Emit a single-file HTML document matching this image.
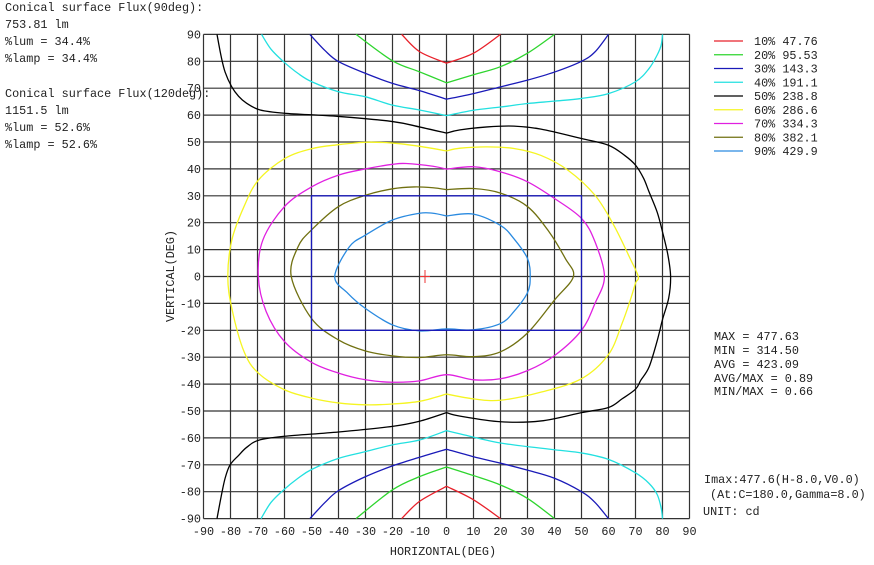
<!DOCTYPE html>
<html><head><meta charset="utf-8"><style>
body{margin:0;background:#fff;width:874px;height:565px;overflow:hidden}
svg{display:block}
text{font-family:"Liberation Mono",monospace;font-size:11.8px;fill:#222}
</style></head><body>
<svg width="874" height="565" viewBox="0 0 874 565">
<g id="grid" stroke="#333" stroke-width="1.2" fill="none"></g>
<g id="curves" transform="translate(446.5,276.5) scale(2.7,-2.69)" fill="none" stroke-width="1.3"></g>
<g stroke="#e33" stroke-width="1"><line x1="425" y1="270" x2="425" y2="283"/><line x1="420" y1="276.5" x2="430" y2="276.5"/></g>
<g id="labels"></g>
<text x="5" y="11">Conical surface Flux(90deg):</text>
<text x="5" y="28">753.81 lm</text>
<text x="5" y="45">%lum = 34.4%</text>
<text x="5" y="62">%lamp = 34.4%</text>
<text x="5" y="97">Conical surface Flux(120deg):</text>
<text x="5" y="114">1151.5 lm</text>
<text x="5" y="131">%lum = 52.6%</text>
<text x="5" y="148">%lamp = 52.6%</text>
<g id="legend"></g>
<text x="714" y="340">MAX = 477.63</text>
<text x="714" y="354">MIN = 314.50</text>
<text x="714" y="368">AVG = 423.09</text>
<text x="714" y="382">AVG/MAX = 0.89</text>
<text x="714" y="395">MIN/MAX = 0.66</text>
<text x="704" y="483">Imax:477.6(H-8.0,V0.0)</text>
<text x="710" y="498">(At:C=180.0,Gamma=8.0)</text>
<text x="703" y="515">UNIT: cd</text>
<text x="443" y="555" text-anchor="middle">HORIZONTAL(DEG)</text>
<text transform="translate(174,276) rotate(-90)" text-anchor="middle">VERTICAL(DEG)</text>
</svg>
<script>
var NS="http://www.w3.org/2000/svg";
function el(p,t,a,txt){var e=document.createElementNS(NS,t);for(var k in a)e.setAttribute(k,a[k]);if(txt!==undefined)e.textContent=txt;p.appendChild(e);return e;}
var X=function(h){return 446.5+2.7*h},Y=function(v){return 276.5-2.69*v};
var g=document.getElementById('grid'),L=document.getElementById('labels');
for(var h=-90;h<=90;h+=10){el(g,'line',{x1:X(h),y1:Y(90),x2:X(h),y2:Y(-90)});el(L,'text',{x:X(h),y:535,'text-anchor':'middle'},String(h));}
for(var v=-90;v<=90;v+=10){el(g,'line',{x1:X(-90),y1:Y(v),x2:X(90),y2:Y(v)});el(L,'text',{x:201,y:Y(v)+4,'text-anchor':'end'},String(v));}
var C={red:'#e8202a',green:'#2ed52e',blue:'#1a1ab8',cyan:'#22e0e0',black:'#000',yellow:'#f5f522',mag:'#e020e0',olive:'#707010',db:'#2a8ae0'};
var S=[
['red',1,[[-16.6,90],[-10,83.6],[0,79.3],[10,83],[20,90]]],
['red',1,[[-16.6,-90],[-10,-83.6],[0,-78],[10,-83],[20,-90]]],
['green',1,[[-33.5,90],[-20,80.2],[-10,76.1],[0,72],[10,75],[20,78],[30,83],[40,90]]],
['green',1,[[-33.5,-90],[-20,-79.3],[-10,-74.4],[0,-70.8],[10,-74],[20,-77.5],[30,-82.5],[40,-90]]],
['blue',1,[[-50.6,90],[-45,84],[-40,79.9],[-30,75.5],[-20,71.8],[-10,69.1],[0,65.9],[10,68],[20,70.5],[30,73],[40,76],[50,80],[55,83.5],[60,90]]],
['blue',1,[[-50.6,-90],[-45,-84],[-40,-79.6],[-30,-74.4],[-20,-70.4],[-10,-67.2],[0,-64.2],[10,-67],[20,-69.4],[30,-72],[40,-75],[50,-80],[55,-84],[60,-90]]],
['cyan',1,[[-68.5,90],[-65,84.5],[-60.4,79.9],[-55,75.5],[-49.9,72.4],[-40,68.7],[-30,66.8],[-20,63.7],[-10,61.9],[0,59.8],[10,61.8],[20,63],[30,64.3],[40,65.2],[50,66.2],[60,68],[70,72.4],[75,77.3],[78,82.3],[79.5,86],[80,90]]],
['cyan',1,[[-68.7,-90],[-65,-84],[-60.4,-79.4],[-55,-75],[-49.9,-71.7],[-40,-67.6],[-30,-65.1],[-20,-62.6],[-10,-60.8],[0,-57.3],[5,-58.5],[20,-61.9],[40,-64.4],[50,-65.6],[60,-68],[70,-73],[75,-76.9],[78,-81],[79.5,-86],[80,-90]]],
['black',1,[[-85,90],[-83.5,82],[-82,76],[-79.6,70.6],[-77,67],[-74,64.4],[-69,61.9],[-60,60.7],[-40,59.5],[-20,57.6],[-10,55.6],[0,53.3],[5,54.5],[15,55.6],[25,55.9],[35,54.8],[50,51.3],[60,48.8],[66,45],[70,41.4],[73,36.5],[75,31.5],[78,24],[80,16.6],[82,8],[83,0],[82.3,-8],[80,-16],[78,-24],[75,-33.7],[72,-38.5],[70,-41.9],[65,-45.5],[60,-48.7],[50,-50.6],[35,-53.7],[20,-54],[5,-51.9],[0,-50.6],[-10,-53.8],[-20,-55.7],[-40,-57.8],[-60,-59.4],[-69.7,-60.9],[-74,-63.5],[-77,-66.5],[-80.2,-70.1],[-82,-75],[-83.5,-82],[-85,-90]]],
['yellow',1,[[0,46.7],[-10,48.4],[-20,49.6],[-30,49.9],[-40,49],[-50,47.5],[-60,43.8],[-69.7,35.8],[-75,26],[-79.5,13.6],[-81,0],[-79.5,-11.9],[-75,-27.9],[-69.7,-35.9],[-60,-42.1],[-50,-45.2],[-40,-47],[-30,-47.7],[-20,-47.4],[-10,-46.4],[0,-43.7],[10,-45.5],[20,-46],[35,-43],[50,-38],[60,-29],[65,-17.5],[68,-9],[70,-2.5],[71,0],[68,6.7],[62,19],[55,30.2],[45,39.5],[35,45],[25,47.6],[15,48.2],[5,47.7],[0,46.7]]],
['mag',0,[[0,39.9],[-5,41],[-15,42],[-20,41.7],[-30,40],[-40,37.7],[-50,33.3],[-60,26],[-68,13.6],[-69.7,0],[-66.8,-13],[-60,-24.2],[-50,-31.9],[-40,-35.9],[-30,-38.4],[-20,-39.3],[-10,-38.8],[0,-36.5],[10,-38.4],[20,-38],[30,-35],[40,-29.4],[50,-20],[55,-10],[58.5,0],[55,12.9],[50,21.6],[40,29],[30,35.2],[20,38.9],[10,40.8],[0,39.9]]],
['olive',0,[[0,32.3],[-5,33],[-12,33.3],[-20,32.6],[-30,30.2],[-40,26],[-50,17.3],[-55,11],[-57.5,0],[-50,-15.6],[-40,-23.6],[-30,-27.7],[-20,-29.5],[-10,-30.1],[0,-29.1],[10,-29.8],[20,-28],[30,-21],[40,-8.75],[47,0],[44,6.7],[38,16.6],[30,26],[20,31],[10,32.7],[0,32.3]]],
['db',0,[[0,22.5],[-5,23.5],[-10,23.5],[-20,21],[-30,15.4],[-36,11],[-41.4,0],[-36.5,-6.3],[-30,-11.9],[-20,-18],[-10,-20.2],[0,-19.5],[10,-19.8],[20,-17.5],[25,-13],[30,-6],[31,0],[30,6.7],[25,14],[20,19],[10,23.2],[0,22.5]]]
];
function seg(P){var d='';for(var i=0;i<P.length-1;i++){var p0=P[Math.max(i-1,0)],p1=P[i],p2=P[i+1],p3=P[Math.min(i+2,P.length-1)];
var c1=[p1[0]+(p2[0]-p0[0])/6,p1[1]+(p2[1]-p0[1])/6],c2=[p2[0]-(p3[0]-p1[0])/6,p2[1]-(p3[1]-p1[1])/6];
d+=' C'+c1+' '+c2+' '+p2;}return d;}
var cg=document.getElementById('curves');
S.forEach(function(s){var P=s[2],d='M'+P[0],cur=[P[0]];
for(var i=1;i<P.length;i++){cur.push(P[i]);if(s[1]&&P[i][0]===0&&i<P.length-1){d+=seg(cur);cur=[P[i]];}}
d+=seg(cur);
el(cg,'path',{d:d,stroke:C[s[0]],'vector-effect':'non-scaling-stroke','stroke-linejoin':'round'});});
el(cg,'rect',{x:-50,y:-20,width:100,height:50,stroke:'#1a1ab8','vector-effect':'non-scaling-stroke'});
var lg=document.getElementById('legend');
var leg=[['red','10% 47.76'],['green','20% 95.53'],['blue','30% 143.3'],['cyan','40% 191.1'],['black','50% 238.8'],['yellow','60% 286.6'],['mag','70% 334.3'],['olive','80% 382.1'],['db','90% 429.9']];
leg.forEach(function(l,i){var y=41+i*13.75;el(lg,'line',{x1:714,y1:y,x2:743,y2:y,stroke:C[l[0]],'stroke-width':1.2});el(lg,'text',{x:754,y:y+4},l[1]);});
</script>
</body></html>
